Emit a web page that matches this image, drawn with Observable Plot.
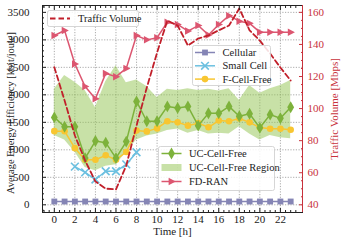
<!DOCTYPE html>
<html><head><meta charset="utf-8">
<script src="https://cdn.jsdelivr.net/npm/d3@7"></script>
<script src="https://cdn.jsdelivr.net/npm/@observablehq/plot@0.6"></script>
<style>body{margin:0;background:#fff}</style>
</head><body><div id="chart"></div>
<script>
const hours = [0,1,2,3,4,5,6,7,8,9,10,11,12,13,14,15,16,17,18,19,20,21,22,23];
const cellular = [60,60,60,60,60,60,60,60,60,60,60,60,60,60,60,60,60,60,60,60,60,60,60,60];
const smallCellHours = [2,3,4,5,6,7,8];
const smallCell = [695,590,460,610,610,735,955];
const fCellFree = [1340,1340,1030,820,820,900,820,960,1350,1335,1390,1520,1500,1440,1485,1410,1533,1520,1570,1500,1405,1382,1382,1364];
const ucCellFree = [1590,1420,1420,850,1160,1130,850,1150,1880,1520,1520,1790,1760,1790,1440,1665,1665,1790,1610,1655,1400,1640,1575,1775];
const ucUpper = [2100,2350,2230,2080,1770,2240,2530,2220,2270,2150,1950,2100,2080,2110,2080,2100,2070,2110,1900,2170,2030,2110,2170,2260];
const ucLower = [1260,1180,960,680,620,700,730,950,1180,1250,1290,1350,1380,1300,1350,1290,1300,1290,1420,1290,1180,1260,1220,1200];
const fdRan = [3080,3170,2560,2150,1930,2390,2330,2480,3080,3000,3040,3320,3280,3160,3260,3090,3280,3440,3340,3300,3140,3140,3140,3140];
const traffic = [125.8,105,83.2,67.6,54.5,50.1,49.6,64.5,89.4,113.1,134.9,154.9,151.8,139.3,143.7,145.6,148.8,151.8,162.4,148.8,142.4,134.3,125.6,117.5];
const xTicks = [0,2,4,6,8,10,12,14,16,18,20,22];
const yTicks = [0,500,1000,1500,2000,2500,3000,3500];
const rTicks = [40,60,80,100,120,140,160];

const FONT = "'Liberation Serif', 'DejaVu Serif', serif";
const C = {cell:"#8585b5", small:"#6cc0e0", fcf:"#f8c631", uc:"#7db23b", region:"#92c450", fd:"#dc5670", tv:"#c11f2a", axisR:"#c8323c"};
const toLeft = t => (t - 40) * 3500 / 120;
const triRight = {draw(ctx, size){ const r = Math.sqrt(size/Math.PI); ctx.moveTo(r*1.25,0); ctx.lineTo(-r*0.85,-r*1.1); ctx.lineTo(-r*0.85,r*1.1); ctx.closePath(); }};

const xMinor = d3.range(-1, 24.01, 0.5).filter(v => v % 2 !== 0);
const yMinor = d3.range(-100, 3601, 100).filter(v => v % 500 !== 0);
const rMinor = d3.range(40, 165, 5).filter(v => v % 20 !== 0).map(toLeft);

const idx = hours.map((h,i)=>i);
const sIdx = smallCellHours.map((h,i)=>i);
const none = () => "";

const plot = Plot.plot({
  width: 341, height: 242,
  marginLeft: 42, marginRight: 39, marginTop: 5, marginBottom: 30,
  style: {fontFamily: FONT, fontSize: "11px", background: "#fff", color: "#222"},
  x: {domain: [-1.15, 24.15]},
  y: {domain: [-140, 3625]},
  marks: [
    Plot.gridX(xTicks, {stroke: "#888", strokeOpacity: 0.7, strokeDasharray: "1.2,1.5"}),
    Plot.gridY(yTicks, {stroke: "#888", strokeOpacity: 0.7, strokeDasharray: "1.2,1.5"}),
    Plot.areaY(idx, {x: i => hours[i], y1: i => ucLower[i], y2: i => ucUpper[i], fill: C.region, fillOpacity: 0.5}),
    Plot.line(idx, {x: i => hours[i], y: i => cellular[i], stroke: C.cell, strokeWidth: 1.5}),
    Plot.dot(idx, {x: i => hours[i], y: i => cellular[i], symbol: "square", fill: C.cell, r: 3.3}),
    Plot.line(sIdx, {x: i => smallCellHours[i], y: i => smallCell[i], stroke: C.small, strokeWidth: 1.5}),
    Plot.dot(sIdx, {x: i => smallCellHours[i], y: i => smallCell[i], symbol: "times", stroke: C.small, strokeWidth: 1.6, r: 3.6}),
    Plot.line(idx, {x: i => hours[i], y: i => fCellFree[i], stroke: C.fcf, strokeWidth: 1.5}),
    Plot.dot(idx, {x: i => hours[i], y: i => fCellFree[i], symbol: "circle", fill: C.fcf, r: 3.3}),
    Plot.line(idx, {x: i => hours[i], y: i => ucCellFree[i], stroke: C.uc, strokeWidth: 1.5}),
    Plot.dot(idx, {x: i => hours[i], y: i => ucCellFree[i], symbol: "diamond", fill: C.uc, r: 3.6}),
    Plot.line(idx, {x: i => hours[i], y: i => fdRan[i], stroke: C.fd, strokeWidth: 1.5}),
    Plot.dot(idx, {x: i => hours[i], y: i => fdRan[i], symbol: triRight, fill: C.fd, r: 3.4}),
    Plot.line(idx, {x: i => hours[i], y: i => toLeft(traffic[i]), stroke: C.tv, strokeWidth: 1.8, strokeDasharray: "5.5,3"}),
    Plot.frame({stroke: "#222", strokeWidth: 1}),
    Plot.ruleX([24.15], {stroke: C.axisR, strokeWidth: 1}),
    // labels (no tick marks)
    Plot.axisX({ticks: xTicks, tickSize: 0, tickPadding: 3, tickFormat: d => String(d), label: null, fill: "#222", fontSize: 11}),
    Plot.axisY({ticks: yTicks, tickSize: 0, tickPadding: 13, tickFormat: d => String(d), label: null, fill: "#222", fontSize: 11}),
    Plot.axisY({anchor: "right", ticks: rTicks.map(toLeft), tickSize: 0, tickPadding: 5, tickFormat: d => String(Math.round(40 + d * 120 / 3500)), label: null, fill: C.axisR, fontSize: 11}),
    // inward tick marks
    Plot.axisX({ticks: xTicks, tickSize: -4, tickFormat: none, label: null, stroke: "#222"}),
    Plot.axisX({ticks: xMinor, tickSize: -2, tickFormat: none, label: null, stroke: "#222"}),
    Plot.axisX({anchor: "top", ticks: xTicks, tickSize: -4, tickFormat: none, label: null, stroke: "#222"}),
    Plot.axisX({anchor: "top", ticks: xMinor, tickSize: -2, tickFormat: none, label: null, stroke: "#222"}),
    Plot.axisY({ticks: yTicks, tickSize: -4, tickFormat: none, label: null, stroke: "#222"}),
    Plot.axisY({ticks: yMinor, tickSize: -2, tickFormat: none, label: null, stroke: "#222"}),
    Plot.axisY({anchor: "right", ticks: rTicks.map(toLeft), tickSize: -4, tickFormat: none, label: null, stroke: C.axisR}),
    Plot.axisY({anchor: "right", ticks: rMinor, tickSize: -2, tickFormat: none, label: null, stroke: C.axisR}),
    Plot.text(["Average Energy Efficiency [kbit/joule]"], {frameAnchor: "left", dx: -32, dy: 4, rotate: -90, textAnchor: "middle", lineAnchor: "middle", fontSize: 10.4, fill: "#222"}),
    Plot.text(["Traffic Volume [Mbps]"], {frameAnchor: "right", dx: 32, rotate: -90, textAnchor: "middle", lineAnchor: "middle", fontSize: 11, fill: C.axisR}),
    Plot.text(["Time [h]"], {frameAnchor: "bottom", dy: 18.5, textAnchor: "middle", lineAnchor: "middle", fontSize: 11, fill: "#222"})
  ]
});
document.getElementById("chart").append(plot);

// legends
const svg = d3.select(plot);
function legend(box, items) {
  const g = svg.append("g").attr("font-family", FONT).attr("font-size", 10.5).attr("text-anchor", "start");
  g.append("rect").attr("x", box.x).attr("y", box.y).attr("width", box.w).attr("height", box.h)
    .attr("rx", 2).attr("fill", "#fff").attr("fill-opacity", 0.85).attr("stroke", "#ccc").attr("stroke-width", 0.8);
  items.forEach((it, k) => {
    const y = box.y0 + k * box.dy;
    const x0 = box.lx, x1 = box.lx + 20, xm = box.lx + 10;
    if (it.kind === "area") {
      g.append("rect").attr("x", x0).attr("y", y - 3.5).attr("width", 20).attr("height", 7).attr("fill", it.color).attr("fill-opacity", 0.5);
    } else {
      g.append("line").attr("x1", x0).attr("x2", x1).attr("y1", y).attr("y2", y).attr("stroke", it.color)
        .attr("stroke-width", it.dash ? 1.8 : 1.5).attr("stroke-dasharray", it.dash || null);
      if (it.symbol) {
        const p = g.append("path").attr("transform", `translate(${xm},${y})`)
          .attr("d", d3.symbol(it.symbol, it.size || 36)());
        if (it.strokeOnly) p.attr("fill", "none").attr("stroke", it.color).attr("stroke-width", 1.6);
        else p.attr("fill", it.color);
      }
    }
    g.append("text").attr("x", box.tx).attr("y", y).attr("dy", "0.35em").attr("fill", "#222").text(it.label);
  });
}
legend({x: 47.5, y: 10.5, w: 91, h: 16, y0: 18.5, dy: 0, lx: 50, tx: 78}, [
  {label: "Traffic Volume", color: C.tv, dash: "5.5,3"}
]);
legend({x: 192.5, y: 45.5, w: 78, h: 40, y0: 52.5, dy: 13.3, lx: 195, tx: 222.5}, [
  {label: "Cellular", color: C.cell, symbol: d3.symbolSquare, size: 34},
  {label: "Small Cell", color: C.small, symbol: d3.symbolTimes, size: 40, strokeOnly: true},
  {label: "F-Cell-Free", color: C.fcf, symbol: d3.symbolCircle, size: 34}
]);
legend({x: 158.5, y: 146.5, w: 116, h: 44, y0: 153.5, dy: 14, lx: 161.5, tx: 189}, [
  {label: "UC-Cell-Free", color: C.uc, symbol: d3.symbolDiamond, size: 40},
  {label: "UC-Cell-Free Region", color: C.region, kind: "area"},
  {label: "FD-RAN", color: C.fd, symbol: triRight, size: 36}
]);
</script>
</body></html>
